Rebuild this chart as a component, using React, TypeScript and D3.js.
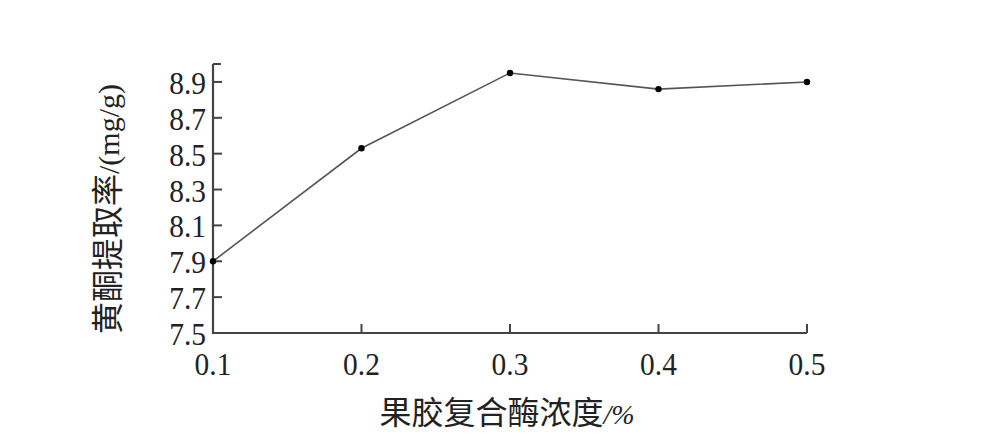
import React from "react";
import * as d3 from "d3";

const categories = [0.1, 0.2, 0.3, 0.4, 0.5];
const values = [7.9, 8.53, 8.95, 8.86, 8.9];
const yTicks = [7.5, 7.7, 7.9, 8.1, 8.3, 8.5, 8.7, 8.9];
const xTickLabels = ["0.1", "0.2", "0.3", "0.4", "0.5"];
const xTitle = "果胶复合酶浓度/%";
const yTitleCJK = "黄酮提取率";
const yTitleUnit = "/(mg/g)";

const W = 988, H = 440;
const left = 213, right = 807, top = 64, bottom = 333;

export default function App() {
  const x = d3.scaleLinear().domain([0.1, 0.5]).range([left, right]);
  const y = d3.scaleLinear().domain([7.5, 9.0]).range([bottom, top]);
  const line = d3.line<number>().x((_, i) => x(categories[i])).y((d) => y(d));
  const serif = "'Liberation Serif', 'DejaVu Serif', serif";
  const cjk = "'Noto Sans CJK SC', sans-serif";
  const axisColor = "#444";
  return (
    <svg width={W} height={H} style={{ position: "absolute", left: 0, top: 0, background: "#fff" }}>
      {/* axes */}
      <line x1={left} y1={top} x2={left} y2={bottom + 1} stroke={axisColor} strokeWidth={2.2} />
      <line x1={left - 1} y1={bottom} x2={right} y2={bottom} stroke={axisColor} strokeWidth={2.2} />
      <line x1={left} y1={top} x2={left + 8} y2={top} stroke={axisColor} strokeWidth={2} />
      {yTicks.map((t) => (
        <g key={t}>
          {t !== 7.5 && <line x1={left} x2={left + 9} y1={y(t)} y2={y(t)} stroke={axisColor} strokeWidth={2} />}
          <text
            transform={`translate(${left - 7}, ${y(t) + 12}) scale(0.92, 1)`}
            textAnchor="end"
            fontFamily={serif}
            fontSize={32}
            fill="#222"
          >
            {t.toFixed(1)}
          </text>
        </g>
      ))}
      {categories.map((c, i) => (
        <g key={c}>
          {i > 0 && <line x1={x(c)} x2={x(c)} y1={bottom} y2={bottom - 9} stroke={axisColor} strokeWidth={2} />}
          <text
            transform={`translate(${x(c)}, 375) scale(0.92, 1)`}
            textAnchor="middle"
            fontFamily={serif}
            fontSize={32}
            fill="#222"
          >
            {xTickLabels[i]}
          </text>
        </g>
      ))}
      {/* line */}
      <path d={line(values) || ""} fill="none" stroke="#555" strokeWidth={1.6} />
      {values.map((v, i) => (
        <circle key={i} cx={x(categories[i])} cy={y(v)} r={3.2} fill="#000" />
      ))}
      {/* titles */}
      <text x={507} y={424} textAnchor="middle" fill="#222" fontSize={32}>
        <tspan fontFamily={cjk}>{xTitle.slice(0, 7)}</tspan>
        <tspan fontFamily={serif} fontStyle="italic" fontSize={28}>{xTitle.slice(7)}</tspan>
      </text>
      <text transform={`translate(119, 209) rotate(-90)`} textAnchor="middle" fill="#222" fontSize={32}>
        <tspan fontFamily={cjk}>{yTitleCJK}</tspan>
        <tspan fontFamily={serif} fontSize={30}>{yTitleUnit}</tspan>
      </text>
    </svg>
  );
}
